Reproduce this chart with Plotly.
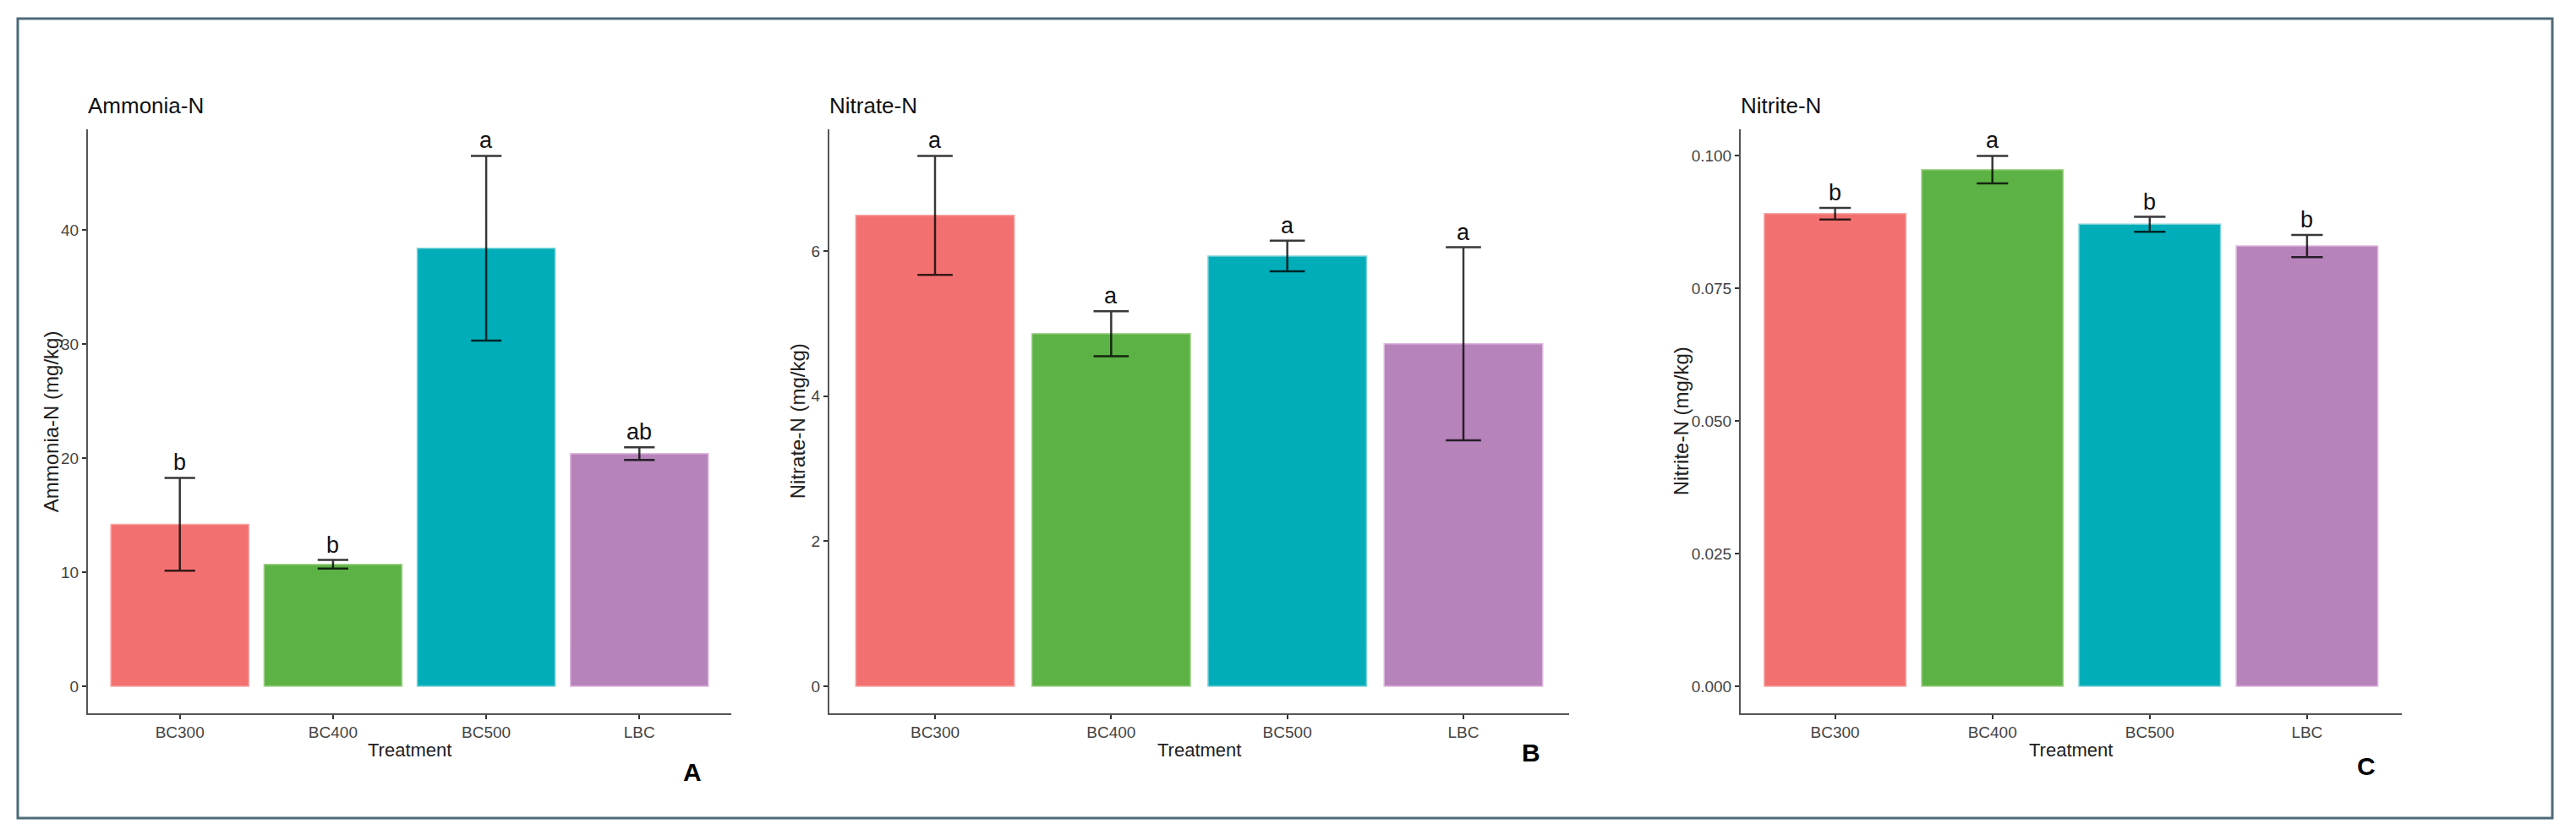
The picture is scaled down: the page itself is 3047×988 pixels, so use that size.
import plotly.graph_objects as go

# ---------------- data ----------------
categories = ["BC300", "BC400", "BC500", "LBC"]

ammonia_mean = [14.2, 10.7, 38.4, 20.4]
ammonia_se = [4.07, 0.38, 8.1, 0.56]
ammonia_letters = ["b", "b", "a", "ab"]

nitrate_mean = [6.49, 4.86, 5.93, 4.72]
nitrate_se = [0.82, 0.31, 0.21, 1.33]
nitrate_letters = ["a", "a", "a", "a"]

nitrite_mean = [0.0891, 0.0974, 0.0871, 0.0830]
nitrite_se = [0.0011, 0.0026, 0.0014, 0.0021]
nitrite_letters = ["b", "a", "b", "b"]

titles = ["Ammonia-N", "Nitrate-N", "Nitrite-N"]
y_titles = ["Ammonia-N (mg/kg)", "Nitrate-N (mg/kg)", "Nitrite-N (mg/kg)"]
panel_tags = ["A", "B", "C"]
y_dticks = [10, 2, 0.025]
y_formats = ["d", "d", ".3f"]

# ---------------- style ----------------
W, H = 3047, 988
FONT = "Liberation Sans, Arial, sans-serif"
bar_colors = ["#F27170", "#5DB246", "#00ADB8", "#B684BA"]
edge_colors = ["#F6A3A3", "#A5D38C", "#7FD3D9", "#DDB7DE"]

# pixel layout (x in px from left, y in px from top)
x_dom_px = [(104, 865), (981, 1856), (2059, 2840.5)]
y_top_px, y_bot_px = 153, 843.5
ytitle_x_px = [60, 943, 1988]
tag_pos_px = [(819, 913), (1810.7, 890), (2799, 906)]
title_y_px = 125
xtitle_y_px = 887


def px(x):
    return x / W


def py(y):
    return 1 - y / H


fig = go.Figure()
annotations = []

panels = [
    (ammonia_mean, ammonia_se, ammonia_letters),
    (nitrate_mean, nitrate_se, nitrate_letters),
    (nitrite_mean, nitrite_se, nitrite_letters),
]

for i, (mean, se, letters) in enumerate(panels):
    ax = "" if i == 0 else str(i + 1)
    xa, ya = "x" + ax, "y" + ax
    x0, x1 = x_dom_px[i]
    cap_half = (x1 - x0) / 4.2 * 0.1

    fig.add_trace(go.Bar(
        x=categories, y=mean, width=0.9,
        marker=dict(color=bar_colors, line=dict(color=edge_colors, width=1.5)),
        error_y=dict(type="data", array=se, color="rgba(0,0,0,0.78)",
                     thickness=2.5, width=cap_half),
        xaxis=xa, yaxis=ya, showlegend=False, hoverinfo="skip",
    ))

    tops = [m + s for m, s in zip(mean, se)]
    ymax = max(tops)
    yrange = [-0.05 * ymax, 1.05 * ymax]

    axis_common = dict(showline=True, linecolor="#555555", linewidth=2,
                       ticks="outside", ticklen=5, tickwidth=2, tickcolor="#333333",
                       showgrid=False, zeroline=False,
                       tickfont=dict(family=FONT, size=19, color="#444444"))
    fig.layout["xaxis" + ax] = dict(domain=[px(x0), px(x1)], range=[-0.6, 3.6],
                                    anchor=ya, type="category", **axis_common)
    fig.layout["yaxis" + ax] = dict(domain=[py(y_bot_px), py(y_top_px)], range=yrange,
                                    anchor=xa, dtick=y_dticks[i], tick0=0,
                                    tickformat=y_formats[i], **axis_common)

    # significance letters
    for c, t, lab in zip(categories, tops, letters):
        annotations.append(dict(x=c, y=t, xref=xa, yref=ya, text=lab, showarrow=False,
                                yanchor="bottom", xanchor="center", yshift=1,
                                font=dict(family=FONT, size=27, color="#111111")))

    # plot title
    annotations.append(dict(x=px(x0), y=py(title_y_px), xref="paper", yref="paper",
                            text=titles[i], showarrow=False, xanchor="left", yanchor="middle",
                            xshift=-2, font=dict(family=FONT, size=26, color="#111111")))
    # x axis title
    annotations.append(dict(x=px((x0 + x1) / 2), y=py(xtitle_y_px), xref="paper", yref="paper",
                            text="Treatment", showarrow=False, xanchor="center", yanchor="middle",
                            font=dict(family=FONT, size=22, color="#222222")))
    # y axis title
    annotations.append(dict(x=px(ytitle_x_px[i]), y=py((y_top_px + y_bot_px) / 2),
                            xref="paper", yref="paper", text=y_titles[i], showarrow=False,
                            textangle=-90, xanchor="center", yanchor="middle",
                            font=dict(family=FONT, size=24, color="#222222")))
    # panel tag
    tx, ty = tag_pos_px[i]
    annotations.append(dict(x=px(tx), y=py(ty), xref="paper", yref="paper",
                            text="<b>" + panel_tags[i] + "</b>", showarrow=False,
                            xanchor="center", yanchor="middle",
                            font=dict(family=FONT, size=30, color="#000000")))

fig.update_layout(
    width=W, height=H, margin=dict(l=0, r=0, t=0, b=0),
    paper_bgcolor="white", plot_bgcolor="white",
    barmode="overlay", bargap=0.1, showlegend=False,
    annotations=annotations,
    shapes=[dict(type="rect", xref="paper", yref="paper",
                 x0=px(21), x1=px(3019), y0=py(968), y1=py(22),
                 line=dict(color="#4E6B78", width=3), fillcolor="rgba(0,0,0,0)")],
)

fig.write_html("out.html")
